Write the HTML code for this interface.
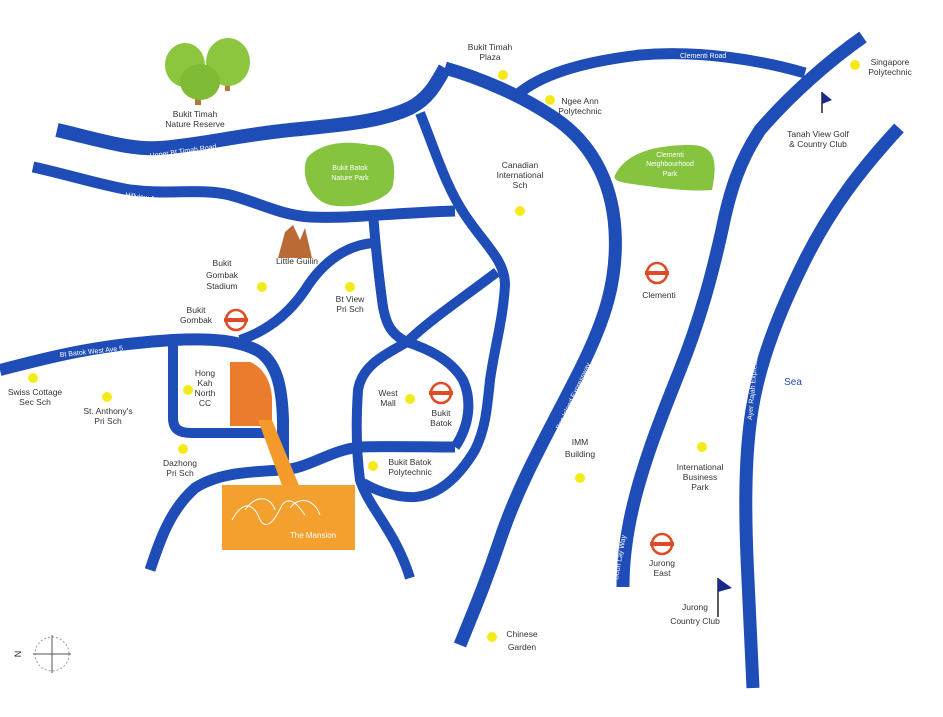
<!DOCTYPE html>
<html><head><meta charset="utf-8"><style>
html,body{margin:0;padding:0;background:#fff;}
svg{display:block;}
text{font-family:"Liberation Sans",sans-serif;}
.l{font-size:8.5px;fill:#333;text-anchor:middle;}
.r{font-size:7px;fill:#fff;}
</style></head><body>
<svg width="943" height="717" viewBox="0 0 943 717" xmlns="http://www.w3.org/2000/svg">
<g fill="none" stroke="#1e4db7" stroke-width="12" stroke-linejoin="round">
<!-- Upper Bt Timah Road -->
<path d="M57,130 C100,140 130,150 160,148 C200,145 240,135 290,130 C340,125 380,122 410,108 C430,98 438,80 445,68" stroke-width="14"/>
<!-- PIE -->
<path d="M445,68 C480,78 520,95 550,115 C590,140 612,180 615,230 C618,280 605,320 580,370 C550,430 520,480 500,540 C485,585 472,615 460,645" stroke-width="13"/>
<!-- Clementi Road -->
<path d="M517,95 C540,75 580,62 640,55 C700,50 760,60 805,73" stroke-width="11"/>
<!-- Commonwealth Ave West / Boon Lay Way -->
<path d="M863,37 C830,60 790,95 760,130 C740,160 730,190 722,230 C712,275 700,320 680,370 C660,420 640,470 630,520 C624,550 623,570 623,587" stroke-width="13"/>
<!-- AYE -->
<path d="M899,128 C860,170 830,210 805,260 C780,310 760,360 752,410 C744,460 745,520 748,580 C750,630 752,660 753,688" stroke-width="13"/>
<!-- Dunearn / Hillview -->
<path d="M33,167 C70,175 100,185 130,190 C170,195 200,188 230,195 C260,203 280,215 310,217 C350,219 390,213 455,211" stroke-width="11"/>
<!-- road from Upper BT down -->
<path d="M420,113 C435,150 445,185 465,215 C485,245 505,260 505,285 C503,320 495,345 490,380 C487,410 485,430 475,450 C460,475 440,495 415,497 C395,498 375,490 363,483" stroke-width="10"/>
<!-- vertical Bt Batok East -->
<path d="M373,213 C375,240 378,270 382,300 C385,325 392,335 407,342" stroke-width="10"/>
<!-- Bt Batok East Ave 3 -->
<path d="M407,342 C430,320 460,300 497,272" stroke-width="10"/>
<!-- inner loop -->
<path d="M407,342 C425,348 450,358 463,380 C472,400 470,425 455,447" stroke-width="10"/>
<!-- Bt Batok Central -->
<path d="M407,342 C385,355 362,365 358,390 C356,420 356,450 360,480 C370,510 395,530 410,578" stroke-width="10"/>
<!-- east-west mid -->
<path d="M150,570 C160,540 170,510 195,488 C215,475 240,472 283,470 C310,468 330,450 360,447 C390,446 420,447 455,447" stroke-width="11"/>
<!-- Bt Batok East Ave 6 -->
<path d="M373,243 C350,245 325,258 305,290 C290,312 270,330 240,340" stroke-width="10"/>
<!-- Bt Batok West Ave 5 -->
<path d="M0,370 C40,360 90,345 173,340 C210,338 240,340 260,352 C278,365 282,390 283,420 L283,460" stroke-width="12"/>
<!-- Ave 8 -->
<path d="M173,340 L173,418 C173,430 180,433 192,433 L267,433" stroke-width="10"/>
</g>
<!-- orange -->
<path d="M230,362 L250,362 C265,368 272,385 272,400 L272,426 L230,426 Z" fill="#ec7c2d"/>
<polygon points="258,420 272,420 300,488 283,488" fill="#f39a2b"/>
<rect x="222" y="485" width="133" height="65" fill="#f4a02e"/>
<path d="M232,520 C240,505 250,500 258,515 C265,535 275,520 282,505 C290,495 298,505 305,515 M245,510 C255,495 270,495 275,510 M290,508 C300,495 315,500 320,515" stroke="#fff" stroke-width="1" fill="none"/>
<text x="313" y="538" font-size="8" fill="#fff" text-anchor="middle">The Mansion</text>
<!-- parks -->
<path d="M307,158 C320,143 345,140 370,145 C395,145 396,165 393,185 C390,200 355,210 330,205 C310,200 300,175 307,158 Z" fill="#86c440"/>
<text x="350" y="170" font-size="7" fill="#fff" text-anchor="middle">Bukit Batok</text>
<text x="350" y="180" font-size="7" fill="#fff" text-anchor="middle">Nature Park</text>
<path d="M615,175 C625,155 650,145 690,145 C715,145 718,160 712,190 C690,192 660,188 640,185 C625,183 612,182 615,175 Z" fill="#86c440"/>
<text x="670" y="157" font-size="7" fill="#fff" text-anchor="middle">Clementi</text>
<text x="670" y="166" font-size="7" fill="#fff" text-anchor="middle">Neighbourhood</text>
<text x="670" y="176" font-size="7" fill="#fff" text-anchor="middle">Park</text>
<!-- trees -->
<rect x="195" y="95" width="6" height="10" fill="#b5773a"/><rect x="225" y="83" width="5" height="8" fill="#b5773a"/>
<ellipse cx="185" cy="65" rx="20" ry="22" fill="#8cc63f"/>
<ellipse cx="228" cy="62" rx="22" ry="24" fill="#8cc63f"/>
<ellipse cx="200" cy="82" rx="20" ry="18" fill="#7fbb35"/>
<!-- little guilin -->
<path d="M278,258 L285,232 L293,225 L300,240 L305,228 L312,258 Z" fill="#b96a35"/>
<!-- dots -->
<g fill="#f5ea19">
<circle cx="503" cy="75" r="5"/><circle cx="550" cy="100" r="5"/><circle cx="520" cy="211" r="5"/>
<circle cx="855" cy="65" r="5"/><circle cx="262" cy="287" r="5"/><circle cx="350" cy="287" r="5"/>
<circle cx="33" cy="378" r="5"/><circle cx="107" cy="397" r="5"/><circle cx="188" cy="390" r="5"/>
<circle cx="183" cy="449" r="5"/><circle cx="410" cy="399" r="5"/><circle cx="373" cy="466" r="5"/>
<circle cx="580" cy="478" r="5"/><circle cx="702" cy="447" r="5"/><circle cx="492" cy="637" r="5"/>
</g>
<!-- MRT -->
<g fill="none" stroke="#e04a25" stroke-width="2.5">
<circle cx="236" cy="320" r="10"/><circle cx="441" cy="393" r="10"/><circle cx="657" cy="273" r="10"/><circle cx="662" cy="544" r="10"/>
</g>
<g fill="#e04a25"><rect x="224" y="318" width="24" height="4"/><rect x="429" y="391" width="24" height="4"/><rect x="645" y="271" width="24" height="4"/><rect x="650" y="542" width="24" height="4"/></g>
<!-- flags -->
<line x1="822" y1="92" x2="822" y2="113" stroke="#222" stroke-width="1.5"/><polygon points="822,92 832,100 822,104" fill="#1a2a8a"/>
<line x1="718" y1="578" x2="718" y2="617" stroke="#222" stroke-width="1.5"/><polygon points="718,578 732,588 718,592" fill="#1a2a8a"/>
<!-- compass -->
<circle cx="52" cy="654" r="17" fill="none" stroke="#999" stroke-dasharray="2,2"/>
<line x1="52" y1="635" x2="52" y2="673" stroke="#555"/><line x1="33" y1="654" x2="71" y2="654" stroke="#555"/>
<text x="18" y="657" font-size="9" fill="#222" transform="rotate(-90 18 654)" text-anchor="middle">N</text>
<!-- labels -->
<g class="l">
<text x="195" y="117">Bukit Timah</text><text x="195" y="127">Nature Reserve</text>
<text x="490" y="50">Bukit Timah</text><text x="490" y="60">Plaza</text>
<text x="580" y="104">Ngee Ann</text><text x="580" y="114">Polytechnic</text>
<text x="520" y="168">Canadian</text><text x="520" y="178">International</text><text x="520" y="188">Sch</text>
<text x="890" y="65">Singapore</text><text x="890" y="75">Polytechnic</text>
<text x="818" y="137">Tanah View Golf</text><text x="818" y="147">&amp; Country Club</text>
<text x="297" y="264">Little Guilin</text>
<text x="222" y="266">Bukit</text><text x="222" y="278">Gombak</text><text x="222" y="289">Stadium</text>
<text x="196" y="313">Bukit</text><text x="196" y="323">Gombak</text>
<text x="350" y="302">Bt View</text><text x="350" y="312">Pri Sch</text>
<text x="35" y="395">Swiss Cottage</text><text x="35" y="405">Sec Sch</text>
<text x="108" y="414">St. Anthony's</text><text x="108" y="424">Pri Sch</text>
<text x="205" y="376">Hong</text><text x="205" y="386">Kah</text><text x="205" y="396">North</text><text x="205" y="406">CC</text>
<text x="180" y="466">Dazhong</text><text x="180" y="476">Pri Sch</text>
<text x="388" y="396">West</text><text x="388" y="406">Mall</text>
<text x="441" y="416">Bukit</text><text x="441" y="426">Batok</text>
<text x="410" y="465">Bukit Batok</text><text x="410" y="475">Polytechnic</text>
<text x="659" y="298">Clementi</text>
<text x="580" y="445">IMM</text><text x="580" y="457">Building</text>
<text x="700" y="470">International</text><text x="700" y="480">Business</text><text x="700" y="490">Park</text>
<text x="662" y="566">Jurong</text><text x="662" y="576">East</text>
<text x="695" y="610">Jurong</text><text x="695" y="624">Country Club</text>
<text x="522" y="637">Chinese</text><text x="522" y="650">Garden</text>
<text x="793" y="385" font-size="10" fill="#1e4db7">Sea</text>
</g>
<g class="r">
<text x="150" y="158" transform="rotate(-8 150 158)">Upper Bt Timah Road</text>
<text x="125" y="197" transform="rotate(8 125 197)">Hillview Avenue</text>
<text x="680" y="58">Clementi Road</text>
<text x="560" y="430" transform="rotate(-65 560 430)">Pan Island Expressway</text>
<text x="700" y="250" transform="rotate(-72 700 250)">Commonwealth Ave West</text>
<text x="618" y="580" transform="rotate(-80 618 580)">Boon Lay Way</text>
<text x="752" y="420" transform="rotate(-85 752 420)">Ayer Rajah Expressway</text>
<text x="60" y="357" transform="rotate(-6 60 357)">Bt Batok West Ave 5</text>
</g>
</svg>
</body></html>
